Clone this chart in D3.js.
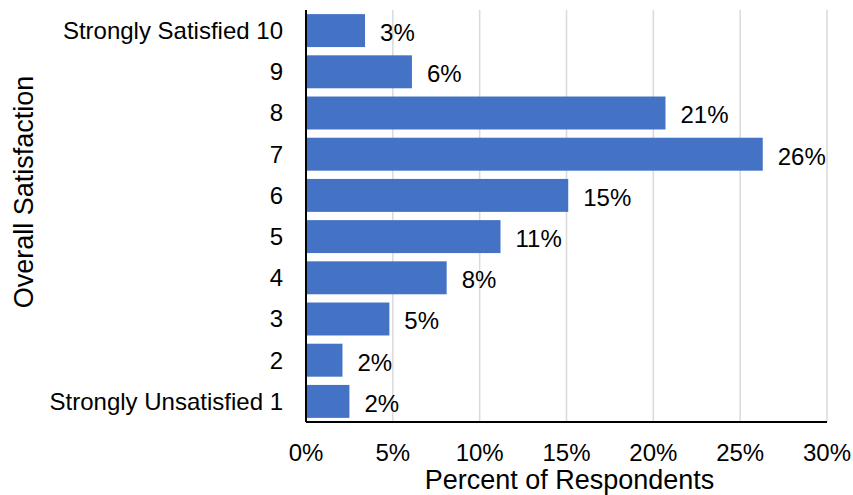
<!DOCTYPE html>
<html>
<head>
<meta charset="utf-8">
<script src="https://cdn.jsdelivr.net/npm/d3@7"></script>
<style>
  body { margin: 0; background: #fff; }
  text { font-family: "Liberation Sans", Arial, Helvetica, sans-serif; fill: #000; }
</style>
</head>
<body>
<svg id="chart" width="853" height="495"></svg>
<script>
// categories top to bottom
const categories = ["Strongly Satisfied 10", "9", "8", "7", "6", "5", "4", "3", "2", "Strongly Unsatisfied 1"];
const percents = [3.4, 6.1, 20.7, 26.3, 15.1, 11.2, 8.1, 4.8, 2.1, 2.5];
const valueLabels = ["3%", "6%", "21%", "26%", "15%", "11%", "8%", "5%", "2%", "2%"];
const xTicks = [0, 5, 10, 15, 20, 25, 30];

const svg = d3.select("#chart");
const margin = { top: 10, right: 26, bottom: 73, left: 306 };
const width = 853 - margin.left - margin.right;
const height = 495 - margin.top - margin.bottom;

const g = svg.append("g").attr("transform", `translate(${margin.left},${margin.top})`);

const x = d3.scaleLinear().domain([0, 30]).range([0, width]);
const y = d3.scaleBand().domain(categories).range([0, height]).paddingInner(0.2).paddingOuter(0.1);

// gridlines
g.selectAll(".grid")
    .data(xTicks.slice(1))
    .enter()
    .append("line")
    .attr("x1", d => x(d))
    .attr("x2", d => x(d))
    .attr("y1", 0)
    .attr("y2", height)
    .attr("stroke", "#d9d9d9")
    .attr("stroke-width", 1.5);

// bars
g.selectAll(".bar")
    .data(percents)
    .enter()
    .append("rect")
    .attr("x", 0)
    .attr("y", (d, i) => y(categories[i]))
    .attr("width", d => x(d))
    .attr("height", y.bandwidth())
    .attr("fill", "#4472c4");

// value labels
g.selectAll(".val")
    .data(percents)
    .enter()
    .append("text")
    .attr("x", d => x(d) + 15)
    .attr("y", (d, i) => y(categories[i]) + y.bandwidth() / 2 + 2)
    .attr("dy", "0.35em")
    .style("font-size", "24px")
    .text((d, i) => valueLabels[i]);

// axes lines
g.append("line")
    .attr("x1", 0).attr("x2", 0)
    .attr("y1", 0).attr("y2", height)
    .attr("stroke", "#000").attr("stroke-width", 2);
g.append("line")
    .attr("x1", 0).attr("x2", width)
    .attr("y1", height).attr("y2", height)
    .attr("stroke", "#000").attr("stroke-width", 2);

// category labels
g.selectAll(".cat")
    .data(categories)
    .enter()
    .append("text")
    .attr("x", -23)
    .attr("y", d => y(d) + y.bandwidth() / 2)
    .attr("dy", "0.35em")
    .attr("text-anchor", "end")
    .style("font-size", "24px")
    .text(d => d);

// x tick labels
g.selectAll(".tick-label")
    .data(xTicks)
    .enter()
    .append("text")
    .attr("x", d => x(d))
    .attr("y", height + 39)
    .attr("text-anchor", "middle")
    .style("font-size", "24px")
    .text(d => d + "%");

// axis titles
g.append("text")
    .attr("x", width / 2 + 3)
    .attr("y", height + 67)
    .attr("text-anchor", "middle")
    .style("font-size", "27px")
    .text("Percent of Respondents");

svg.append("text")
    .attr("transform", "translate(33,192) rotate(-90)")
    .attr("text-anchor", "middle")
    .style("font-size", "27px")
    .text("Overall Satisfaction");
</script>
</body>
</html>
